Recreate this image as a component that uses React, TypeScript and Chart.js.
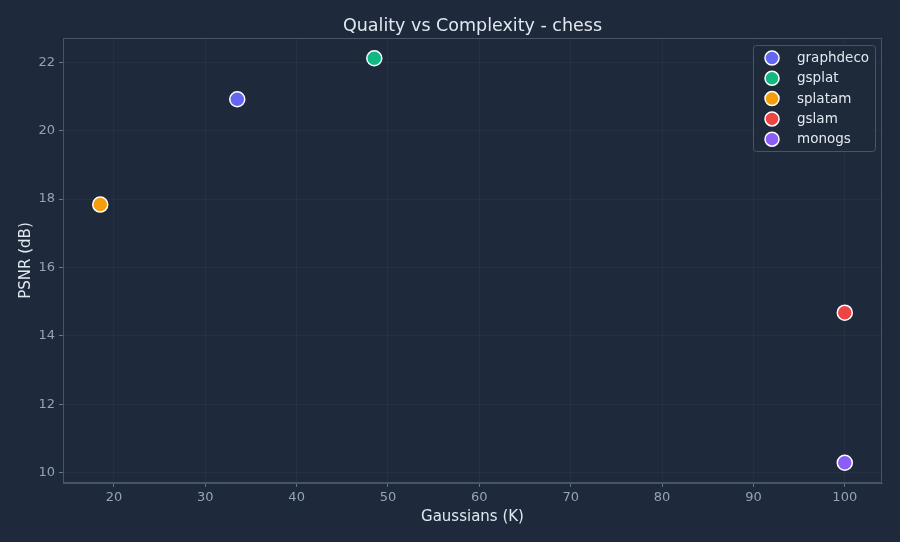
import React, { useEffect, useRef } from 'react';
import { Chart, registerables, Plugin } from 'chart.js';

Chart.register(...registerables);

const methods = ['graphdeco', 'gsplat', 'splatam', 'gslam', 'monogs'];
const gaussiansK = [33.5, 48.5, 18.5, 100, 100];
const psnr = [20.92, 22.12, 17.84, 14.68, 10.29];
const colors = ['#6366f1', '#10b981', '#f59e0b', '#ef4444', '#8b5cf6'];

const xTicks = [20, 30, 40, 50, 60, 70, 80, 90, 100];
const yTicks = [10, 12, 14, 16, 18, 20, 22];

const BG = '#1e293b';
const SPINE = '#475569';
const TICK_TEXT = '#94a3b8';
const TEXT = '#e2e8f0';
const FONT = "'DejaVu Sans', sans-serif";

// pad the data range by 5% like the original plot does
const pad = (vals: number[]) => {
  const lo = Math.min(...vals);
  const hi = Math.max(...vals);
  const m = (hi - lo) * 0.05;
  return [lo - m, hi + m];
};

const decorPlugin: Plugin = {
  id: 'decor',
  beforeDraw(chart) {
    const { ctx, width, height } = chart;
    ctx.save();
    ctx.fillStyle = BG;
    ctx.fillRect(0, 0, width, height);
    ctx.restore();
  },
  afterDraw(chart) {
    const { ctx, chartArea } = chart;
    ctx.save();
    // frame round the plot
    ctx.strokeStyle = SPINE;
    ctx.lineWidth = 1;
    ctx.strokeRect(chartArea.left + 0.5, chartArea.top + 0.5, chartArea.width - 1, chartArea.height - 1);

    // title
    ctx.fillStyle = TEXT;
    ctx.font = `17.5px ${FONT}`;
    ctx.textAlign = 'center';
    ctx.textBaseline = 'middle';
    ctx.fillText('Quality vs Complexity - chess', (chartArea.left + chartArea.right) / 2, 26.5);

    // legend inside the plot, top right
    const boxL = chartArea.right - 129;
    const boxT = chartArea.top + 7;
    const boxW = 122;
    const boxH = 106;
    ctx.fillStyle = 'rgba(30,41,59,0.85)';
    ctx.strokeStyle = SPINE;
    ctx.beginPath();
    ctx.roundRect(boxL + 0.5, boxT + 0.5, boxW, boxH, 3);
    ctx.fill();
    ctx.stroke();

    ctx.font = `13.5px ${FONT}`;
    ctx.textAlign = 'left';
    chart.data.datasets.forEach((ds, i) => {
      const cy = boxT + 13 + i * 20.3;
      ctx.beginPath();
      ctx.arc(boxL + 19, cy, 7, 0, Math.PI * 2);
      ctx.fillStyle = ds.backgroundColor as string;
      ctx.fill();
      ctx.lineWidth = 1.5;
      ctx.strokeStyle = '#ffffff';
      ctx.stroke();
      ctx.fillStyle = TEXT;
      ctx.fillText(ds.label as string, boxL + 44, cy + 0.5);
    });
    ctx.restore();
  },
};

const App: React.FC = () => {
  const chartRef = useRef<HTMLCanvasElement>(null);
  const chartInstance = useRef<Chart | null>(null);

  useEffect(() => {
    document.body.style.margin = '0';
    document.body.style.background = BG;
    if (!chartRef.current) return;
    if (chartInstance.current) chartInstance.current.destroy();

    const [xMin, xMax] = pad(gaussiansK);
    const [yMin, yMax] = pad(psnr);

    chartInstance.current = new Chart(chartRef.current, {
      type: 'scatter',
      data: {
        datasets: methods.map((m, i) => ({
          label: m,
          data: [{ x: gaussiansK[i], y: psnr[i] }],
          backgroundColor: colors[i],
          borderColor: '#ffffff',
          borderWidth: 1.5,
          pointRadius: 7.5,
          pointHoverRadius: 7.5,
        })),
      },
      options: {
        animation: false,
        responsive: false,
        maintainAspectRatio: false,
        layout: { padding: { top: 38, right: 18, left: 0, bottom: 0 } },
        plugins: {
          legend: { display: false },
          title: { display: false },
          tooltip: { enabled: false },
        },
        scales: {
          x: {
            type: 'linear',
            min: xMin,
            max: xMax,
            afterFit: (s: any) => { s.height = 59; },
            afterBuildTicks: (s: any) => { s.ticks = xTicks.map(v => ({ value: v })); },
            grid: { color: 'rgba(148,163,184,0.06)', tickColor: '#64748b', tickLength: 4 },
            border: { color: SPINE },
            ticks: { color: TICK_TEXT, font: { family: FONT, size: 13 }, padding: 3, includeBounds: false },
            title: {
              display: true,
              text: 'Gaussians (K)',
              color: TEXT,
              font: { family: FONT, size: 15 },
              padding: { top: 4, bottom: 16 },
            },
          },
          y: {
            type: 'linear',
            min: yMin,
            max: yMax,
            afterFit: (s: any) => { s.width = 63; },
            afterBuildTicks: (s: any) => { s.ticks = yTicks.map(v => ({ value: v })); },
            grid: { color: 'rgba(148,163,184,0.06)', tickColor: '#64748b', tickLength: 4 },
            border: { color: SPINE },
            ticks: { color: TICK_TEXT, font: { family: FONT, size: 13 }, padding: 4, includeBounds: false },
            title: {
              display: true,
              text: 'PSNR (dB)',
              color: TEXT,
              font: { family: FONT, size: 15 },
              padding: { top: 17, bottom: 4 },
            },
          },
        },
      },
      plugins: [decorPlugin],
    });

    return () => {
      if (chartInstance.current) {
        chartInstance.current.destroy();
        chartInstance.current = null;
      }
    };
  }, []);

  return (
    <div style={{ width: 900, height: 542 }}>
      <canvas ref={chartRef} width={900} height={542}></canvas>
    </div>
  );
};

export default App;
